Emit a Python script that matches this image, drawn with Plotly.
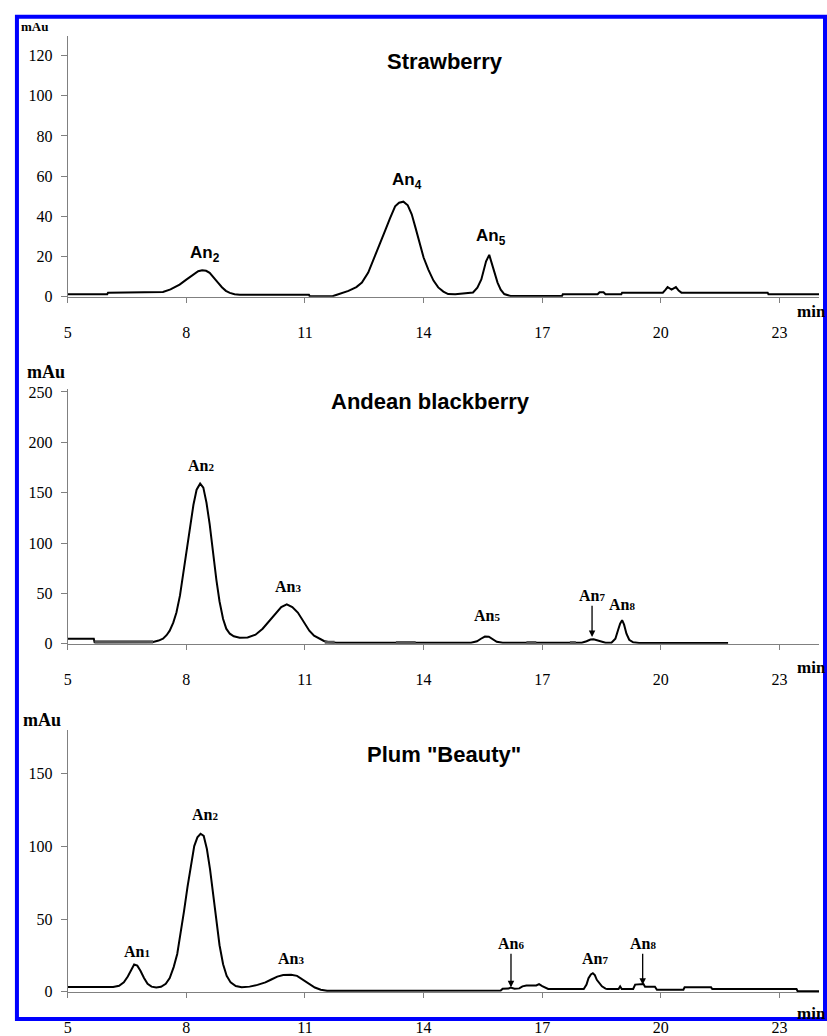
import plotly.graph_objects as go

# ---------------- data (retention time in min, absorbance in mAu) ----------------
strawberry_points = [
    (5.0, 1.2), (6.0, 1.2), (6.02, 2.0), (7.41, 2.3), (7.6, 3.6), (7.83, 6.0), (8.0, 8.5),
    (8.1, 10.0), (8.2, 11.6), (8.3, 12.7), (8.4, 13.2), (8.5, 12.9), (8.59, 11.9), (8.7, 9.6),
    (8.8, 7.0), (8.9, 4.7), (9.0, 2.9), (9.1, 1.9), (9.22, 1.2), (9.35, 1.0), (11.1, 1.0),
    (11.12, 0.2), (11.7, 0.2), (11.75, 0.6), (12.1, 2.9), (12.3, 4.8), (12.44, 7.0), (12.6, 12.0),
    (12.77, 20.0), (12.9, 27.0), (13.03, 33.0), (13.15, 39.0), (13.28, 45.0), (13.38, 46.8),
    (13.49, 47.3), (13.6, 45.5), (13.7, 41.0), (13.8, 34.0), (13.9, 26.5), (14.0, 19.5),
    (14.12, 13.5), (14.25, 8.0), (14.37, 4.6), (14.5, 2.5), (14.62, 1.3), (14.8, 1.2),
    (15.25, 2.1), (15.36, 4.5), (15.46, 8.6), (15.58, 17.6), (15.66, 20.8), (15.74, 16.0),
    (15.8, 11.5), (15.87, 7.0), (15.95, 3.5), (16.04, 1.3), (16.2, 0.3), (17.5, 0.3),
    (17.52, 1.2), (18.4, 1.2), (18.45, 2.2), (18.55, 2.2), (18.6, 1.2), (19.0, 1.2),
    (19.02, 2.0), (20.05, 2.0), (20.12, 3.5), (20.17, 4.8), (20.27, 3.5), (20.38, 4.8),
    (20.45, 3.0), (20.52, 2.0), (22.7, 2.0), (22.72, 1.2), (24.0, 1.2),
]

blackberry_points = [
    (5.0, 5.0), (5.66, 5.0), (5.68, 1.6), (7.16, 1.8), (7.3, 3.2), (7.41, 5.0), (7.5, 8.5),
    (7.58, 13.0), (7.67, 21.0), (7.75, 31.0), (7.84, 48.0), (7.92, 70.0), (8.0, 92.0),
    (8.09, 115.0), (8.18, 138.0), (8.26, 153.0), (8.35, 159.0), (8.43, 155.0), (8.51, 140.0),
    (8.59, 118.7), (8.67, 92.0), (8.76, 63.5), (8.84, 42.0), (8.93, 24.6), (9.01, 15.0),
    (9.1, 10.0), (9.2, 7.5), (9.35, 6.0), (9.55, 6.2), (9.75, 9.0), (9.93, 15.0), (10.1, 23.0),
    (10.27, 31.0), (10.4, 36.5), (10.54, 39.2), (10.68, 36.5), (10.82, 31.0), (10.97, 22.0),
    (11.11, 13.0), (11.23, 8.0), (11.36, 5.0), (11.48, 2.8), (11.61, 1.5), (11.8, 1.0),
    (15.2, 1.0), (15.35, 2.5), (15.45, 5.0), (15.55, 7.2), (15.65, 7.0), (15.75, 4.5),
    (15.85, 2.0), (16.0, 1.0), (18.0, 1.0), (18.12, 2.5), (18.22, 4.2), (18.3, 4.5),
    (18.4, 3.5), (18.5, 1.8), (18.6, 1.0), (18.75, 1.0), (18.85, 5.0), (18.92, 14.0),
    (18.97, 20.0), (19.02, 23.5), (19.07, 19.0), (19.13, 10.0), (19.2, 4.0), (19.3, 1.5),
    (19.45, 0.8), (21.7, 0.8),
]

# grey integration marks on the blackberry baseline (start, end, level)
blackberry_marks = [(5.68, 7.16, 1.7), (11.5, 11.75, 1.2), (13.3, 13.8, 1.0),
                    (16.6, 16.85, 1.0), (17.7, 17.85, 1.0)]

plum_points = [
    (5.0, 3.3), (6.15, 3.3), (6.3, 4.2), (6.42, 6.5), (6.52, 10.5), (6.6, 15.0), (6.68, 18.8),
    (6.76, 18.0), (6.84, 14.5), (6.93, 9.5), (7.02, 5.5), (7.12, 3.6), (7.24, 3.0), (7.36, 3.5),
    (7.48, 5.5), (7.58, 9.5), (7.68, 17.0), (7.77, 26.0), (7.86, 40.0), (7.94, 55.0),
    (8.03, 72.0), (8.12, 88.0), (8.2, 100.0), (8.28, 106.0), (8.36, 108.5), (8.44, 107.0),
    (8.52, 98.0), (8.6, 84.0), (8.68, 66.0), (8.76, 48.0), (8.84, 32.0), (8.93, 19.0),
    (9.02, 11.0), (9.12, 6.5), (9.25, 4.0), (9.4, 3.2), (9.6, 3.6), (9.8, 4.8), (10.0, 6.5),
    (10.15, 8.5), (10.3, 10.5), (10.45, 11.6), (10.65, 11.8), (10.8, 11.0), (10.95, 8.5),
    (11.1, 5.5), (11.25, 3.0), (11.4, 1.5), (11.56, 0.8), (15.95, 0.9), (16.0, 2.2),
    (16.15, 2.3), (16.2, 3.0), (16.3, 2.2), (16.42, 2.4), (16.5, 3.8), (16.6, 4.4),
    (16.85, 4.4), (16.92, 5.3), (17.0, 4.0), (17.08, 2.7), (17.15, 2.0), (18.05, 2.0),
    (18.12, 5.0), (18.17, 9.4), (18.23, 12.0), (18.28, 12.8), (18.33, 11.5), (18.38, 8.3),
    (18.45, 5.5), (18.51, 3.8), (18.6, 2.2), (18.64, 2.0), (18.93, 2.0), (18.97, 3.8),
    (19.01, 2.0), (19.3, 2.0), (19.35, 5.0), (19.45, 5.4), (19.56, 5.4), (19.6, 3.5),
    (19.85, 3.5), (19.9, 1.5), (20.57, 1.5), (20.6, 3.1), (21.27, 3.1), (21.3, 2.0),
    (23.43, 2.0), (23.46, 0.4), (24.0, 0.4),
]

x_ticks = [5, 8, 11, 14, 17, 20, 23]
y_ticks_strawberry = [0, 20, 40, 60, 80, 100, 120]
y_ticks_blackberry = [0, 50, 100, 150, 200, 250]
y_ticks_plum = [0, 50, 100, 150]

panel_titles = ["Strawberry", "Andean blackberry", 'Plum "Beauty"']

# ---------------- layout helpers ----------------
W, H = 827, 1036
def fx(p):
    return p / W
def fy(p):
    return 1 - p / H

SERIF = "Liberation Serif, Times New Roman, serif"
SANS = "Liberation Sans, Arial, sans-serif"

fig = go.Figure()

def add_series(points, ax):
    fig.add_trace(go.Scatter(
        x=[p[0] for p in points], y=[p[1] for p in points], mode="lines",
        line=dict(color="black", width=2), xaxis="x" + ax, yaxis="y" + ax,
        hoverinfo="skip"))

add_series(strawberry_points, "")
add_series(blackberry_points, "2")
add_series(plum_points, "3")

mx, my = [], []
for a, b, lvl in blackberry_marks:
    mx += [a, b, None]
    my += [lvl, lvl, None]
fig.add_trace(go.Scatter(x=mx, y=my, mode="lines", line=dict(color="#555555", width=3.5),
                         xaxis="x2", yaxis="y2", hoverinfo="skip"))

axis_common = dict(showline=True, linecolor="#808080", linewidth=1, ticks="outside",
                   tickcolor="#808080", tickwidth=1, showgrid=False, zeroline=False,
                   tickfont=dict(family=SERIF, size=16, color="black"))

xdom = [fx(64), fx(819)]
panels = [
    ("", y_ticks_strawberry, 130, 297.7, 31.2),
    ("2", y_ticks_blackberry, 253, 652.0, 391.9),
    ("3", y_ticks_plum, 180, 1007.3, 739.5),
]
lay = {}
for ax, yt, ymax, p0, p1 in panels:
    lay["xaxis" + ax] = dict(axis_common, domain=xdom, range=[5, 24], tickvals=x_ticks,
                             ticklen=5, anchor="y" + ax, ticklabelstandoff=16)
    lay["yaxis" + ax] = dict(axis_common, domain=[fy(p0), fy(p1)], range=[0, ymax],
                             tickvals=yt, ticklen=6, anchor="x" + ax, ticklabelstandoff=5)
fig.update_layout(**lay)

ann = []
def txt(s, cx, cy, family, size, xanchor="center"):
    ann.append(dict(text=s, x=fx(cx), y=fy(cy), xref="paper", yref="paper",
                    xanchor=xanchor, yanchor="middle", showarrow=False,
                    font=dict(family=family, size=size, color="black")))

# titles
txt("<b>%s</b>" % panel_titles[0], 443, 58, SANS, 22)
txt("<b>%s</b>" % panel_titles[1], 428.5, 405, SANS, 22)
txt("<b>%s</b>" % panel_titles[2], 442, 765, SANS, 22)

# y unit labels
txt("<b>mAu</b>", 31, 22, SERIF, 13)
txt("<b>mAu</b>", 42.5, 375, SERIF, 18)
txt("<b>mAu</b>", 38.5, 730, SERIF, 18)

# x unit labels
for cy in (313, 676, 1029):
    txt("<b>min</b>", 795, cy, SERIF, 17, xanchor="left")

# strawberry peak labels (sans, subscripts)
for lab, cx, cy in [("2", 202, 254), ("4", 405, 180), ("5", 489, 237)]:
    txt("<b>An<sub>%s</sub></b>" % lab, cx, cy, SANS, 17)

def serif_lab(n):
    return "<b>An<span style='font-size:11px'>%s</span></b>" % n

for lab, cx, cy in [("2", 198, 470), ("3", 285.6, 594), ("5", 485.5, 623),
                    ("8", 621, 612)]:
    txt(serif_lab(lab), cx, cy, SERIF, 16)
for lab, cx, cy in [("1", 134, 966), ("2", 201.7, 826.7), ("3", 288, 973),
                    ("7", 593.7, 973)]:
    txt(serif_lab(lab), cx, cy, SERIF, 16)

# labels with arrows pointing down to minor peaks (x, tip value, label value)
for ax, lab, xv, y_tip, y_lab in [("2", "7", 18.26, 6.8, 47.7), ("3", "6", 16.21, 3.1, 33.1),
                                  ("3", "8", 19.54, 4.9, 33.1)]:
    ann.append(dict(text=serif_lab(lab), x=xv, y=y_tip, ax=xv, ay=y_lab,
                    xref="x" + ax, yref="y" + ax, axref="x" + ax, ayref="y" + ax,
                    showarrow=True, arrowhead=2, arrowsize=1, arrowwidth=1.3,
                    arrowcolor="black", standoff=0, startstandoff=0,
                    font=dict(family=SERIF, size=16, color="black")))

fig.update_layout(
    width=W, height=H, margin=dict(l=0, r=0, t=0, b=0),
    paper_bgcolor="white", plot_bgcolor="white", showlegend=False,
    annotations=ann,
    shapes=[dict(type="rect", xref="paper", yref="paper", x0=fx(13), x1=fx(825),
                 y0=fy(1035), y1=fy(12), line=dict(color="#0000FF", width=4),
                 fillcolor="rgba(0,0,0,0)", layer="above")],
)

fig.write_html("out.html", config={"displayModeBar": False},
               post_script="document.body.style.margin='0';document.body.style.overflow='hidden';")
